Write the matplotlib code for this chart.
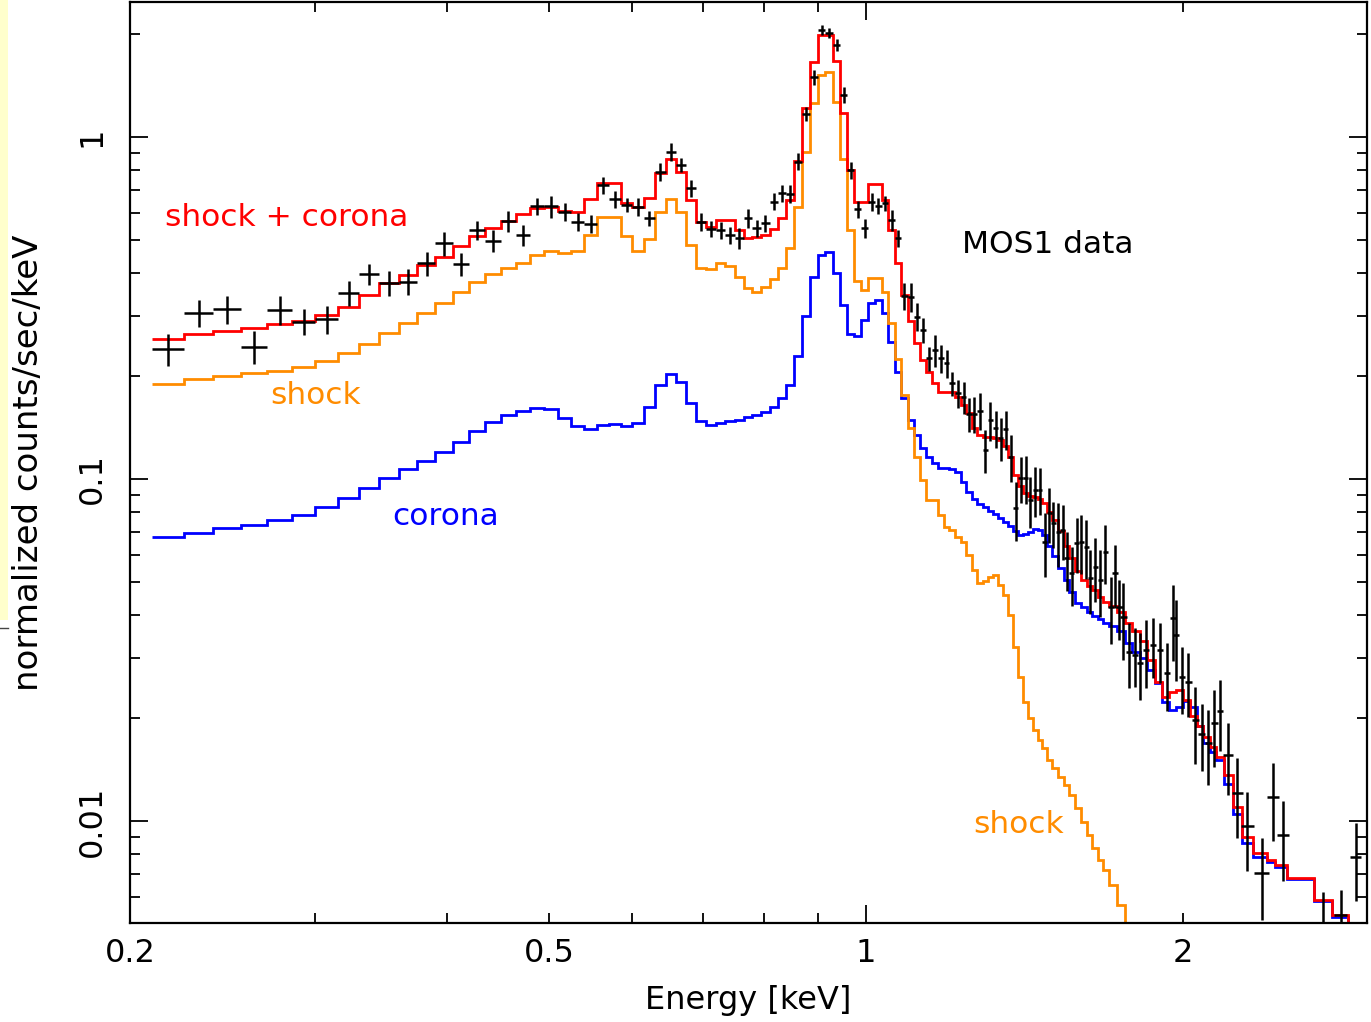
import matplotlib
matplotlib.use("Agg")
import matplotlib.pyplot as plt
from matplotlib.ticker import FixedLocator, FixedFormatter, LogLocator, NullFormatter
from matplotlib.patches import Rectangle
from matplotlib.lines import Line2D

# ---------------- data ----------------
# model bin edges [keV]
bin_edges = [
    0.210, 0.225, 0.240, 0.255, 0.270, 0.285, 0.300, 0.315, 0.330, 0.345,
    0.360, 0.375, 0.390, 0.405, 0.420, 0.435, 0.450, 0.465, 0.480, 0.495,
    0.510, 0.525, 0.540, 0.555, 0.570, 0.585, 0.600, 0.615, 0.630, 0.645,
    0.660, 0.675, 0.690, 0.705, 0.720, 0.735, 0.750, 0.765, 0.780, 0.795,
    0.810, 0.825, 0.840, 0.855, 0.870, 0.885, 0.900, 0.915, 0.930, 0.945,
    0.960, 0.975, 0.990, 1.005, 1.020, 1.035, 1.050, 1.065, 1.080, 1.095,
    1.110, 1.125, 1.140, 1.155, 1.170, 1.185, 1.200, 1.215, 1.230, 1.245,
    1.260, 1.275, 1.290, 1.305, 1.320, 1.335, 1.350, 1.365, 1.380, 1.395,
    1.410, 1.425, 1.440, 1.455, 1.470, 1.485, 1.500,
    1.52, 1.54, 1.56, 1.58, 1.60, 1.62, 1.64, 1.66, 1.68, 1.70,
    1.73, 1.76, 1.79, 1.82, 1.85, 1.88, 1.91, 1.94, 1.97, 2.00,
    2.03, 2.06, 2.09, 2.12, 2.15, 2.185, 2.232,
    2.274, 2.331, 2.402, 2.446, 2.509, 2.66, 2.769, 2.871, 2.98,
]

# model: shock + corona (red)
model_total = [
    0.257, 0.266, 0.271, 0.276, 0.284, 0.290, 0.302, 0.319, 0.344, 0.374,
    0.395, 0.422, 0.447, 0.481, 0.513, 0.542, 0.569, 0.596, 0.620, 0.622,
    0.608, 0.604, 0.657, 0.732, 0.732, 0.641, 0.625, 0.664, 0.782, 0.861,
    0.790, 0.652, 0.565, 0.547, 0.572, 0.572, 0.535, 0.506, 0.510, 0.517,
    0.537, 0.579, 0.654, 0.851, 1.213, 1.653, 1.987, 1.987, 1.668, 1.178,
    0.800, 0.647, 0.647, 0.727, 0.727, 0.654, 0.535, 0.429, 0.345, 0.290,
    0.249, 0.223, 0.205, 0.1905, 0.180, 0.180, 0.180, 0.174, 0.165, 0.156,
    0.141, 0.1345, 0.1327, 0.1327, 0.1318, 0.130, 0.1249, 0.116, 0.1027, 0.0954,
    0.0910, 0.0892, 0.0886, 0.0874, 0.0851, 0.0801, 0.0759, 0.0705, 0.0637, 0.0587,
    0.0538, 0.0507, 0.0487, 0.0474, 0.0452, 0.0438, 0.0425, 0.0408, 0.0379, 0.0358,
    0.0336, 0.0296, 0.0255, 0.0231, 0.0239, 0.0242, 0.0226, 0.0202, 0.0189, 0.0176,
    0.0165, 0.0154, 0.0136, 0.0110, 0.00900, 0.00805, 0.00769, 0.00743, 0.00680, 0.00587,
    0.00531, 0.0040,
]

# model: shock component (orange)
model_shock = [
    0.189, 0.196, 0.2001, 0.2038, 0.2074, 0.2131, 0.2210, 0.2331, 0.2481, 0.2678,
    0.2864, 0.3052, 0.3265, 0.3529, 0.3775, 0.3977, 0.4131, 0.4290, 0.4519, 0.4653,
    0.4571, 0.4653, 0.5152, 0.5828, 0.5848, 0.5135, 0.4641, 0.5022, 0.6036, 0.6588,
    0.6048, 0.4842, 0.4131, 0.4111, 0.4272, 0.4204, 0.3897, 0.3611, 0.3529, 0.3643,
    0.3837, 0.4131, 0.4726, 0.6254, 0.9058, 1.260, 1.518, 1.552, 1.268, 0.864,
    0.5348, 0.3793, 0.3570, 0.3871, 0.3871, 0.3510, 0.2853, 0.2239, 0.1760, 0.1407,
    0.1162, 0.0993, 0.0868, 0.0868, 0.0785, 0.0725, 0.0709, 0.0678, 0.0656, 0.0599,
    0.0542, 0.0497, 0.0503, 0.0517, 0.0524, 0.0490, 0.0458, 0.0400, 0.0323, 0.0264,
    0.0223, 0.0200, 0.0185, 0.0173, 0.0163, 0.0151, 0.01429, 0.01345, 0.01274, 0.01191,
    0.01091, 0.00993, 0.00910, 0.00834, 0.00769, 0.00719, 0.00650, 0.00568, 0.00496, 0.0042,
]

# model: corona component (blue)
model_corona = [
    0.0678, 0.0697, 0.0718, 0.0734, 0.0759, 0.0785, 0.0827, 0.0882, 0.0943, 0.1009,
    0.1070, 0.1131, 0.1202, 0.1285, 0.1384, 0.1471, 0.1536, 0.1581, 0.1610, 0.1597,
    0.1511, 0.1429, 0.1403, 0.1436, 0.1448, 0.1429, 0.1455, 0.1627, 0.1883, 0.2024,
    0.1917, 0.1665, 0.1481, 0.1436, 0.1458, 0.1478, 0.1488, 0.1522, 0.1539, 0.1573,
    0.1627, 0.1722, 0.1883, 0.2289, 0.2996, 0.3883, 0.4519, 0.4610, 0.3995, 0.3227,
    0.2646, 0.2619, 0.2917, 0.3278, 0.3338, 0.3052, 0.2521, 0.2060, 0.1722, 0.1488,
    0.1345, 0.1230, 0.1162, 0.1111, 0.1075, 0.1075, 0.1070, 0.1051, 0.0982, 0.0918,
    0.0874, 0.0845, 0.0826, 0.0806, 0.0790, 0.0767, 0.0748, 0.0729, 0.0705, 0.0686,
    0.0689, 0.0701, 0.0713, 0.0709, 0.0686, 0.0637, 0.0595, 0.0549, 0.0507, 0.0467,
    0.0435, 0.0423, 0.0409, 0.0398, 0.0389, 0.0380, 0.0372, 0.0359, 0.0332, 0.0312,
    0.0300, 0.0276, 0.0253, 0.0223, 0.0211, 0.0216, 0.0224, 0.0215, 0.0189, 0.0169,
    0.0159, 0.0151, 0.0128, 0.0105, 0.00861, 0.00787, 0.00760, 0.00732, 0.00675, 0.00585,
    0.00523, 0.0040,
]

# MOS1 data points
data_energy = [
    0.2175, 0.2325, 0.2475, 0.2625, 0.2775, 0.2925, 0.3075, 0.3225, 0.3375, 0.3525,
    0.3675, 0.3825, 0.3975, 0.4125, 0.4275, 0.4425, 0.4575, 0.4725, 0.4875, 0.5025,
    0.5175, 0.5325, 0.5475, 0.5625, 0.5775, 0.5925, 0.6075, 0.6225, 0.6375, 0.6525,
    0.6675, 0.6825, 0.6975, 0.7125, 0.7275, 0.7425, 0.7575, 0.7725, 0.7875, 0.8025,
    0.8175, 0.8325, 0.8475, 0.8625, 0.8775, 0.8925, 0.9075, 0.9225, 0.9375, 0.9525,
    0.9675, 0.9825, 0.9975, 1.0125, 1.0275, 1.0425, 1.0575, 1.0725, 1.0875, 1.1025,
    1.1175, 1.1325, 1.1475, 1.1625, 1.1775, 1.1925, 1.2075, 1.2225, 1.2375, 1.2525,
    1.2675, 1.2825, 1.2975, 1.3125, 1.3275, 1.3425, 1.3575, 1.3725, 1.3875, 1.4025,
    1.4175, 1.4325, 1.4475, 1.4625, 1.4775, 1.4925,
    1.5063, 1.5228, 1.5375, 1.5510, 1.5681, 1.5852, 1.6003, 1.6179, 1.6321, 1.6500,
    1.6681, 1.6865, 1.7076, 1.7238, 1.7400, 1.7553, 1.7773, 1.8008, 1.8206, 1.8446,
    1.8730, 1.9019, 1.9301, 1.9556, 1.9698, 1.9945, 2.0235, 2.0534, 2.0837, 2.1140,
    2.1419, 2.1687, 2.2084, 2.2522, 2.3020, 2.3760, 2.4339, 2.4874, 2.7186, 2.8238,
    2.9168,
]
data_energy_halfwidth = [0.0075] * 86 + [
    0.009, 0.009, 0.009, 0.009, 0.009, 0.009, 0.009, 0.009, 0.009, 0.009,
    0.009, 0.009, 0.012, 0.012, 0.012, 0.012, 0.012, 0.012, 0.012, 0.012,
    0.012, 0.012, 0.012, 0.012, 0.012, 0.012, 0.016, 0.016, 0.016, 0.016,
    0.016, 0.016, 0.024, 0.026, 0.031, 0.039, 0.031, 0.034, 0.040, 0.040,
    0.037,
]
data_counts = [
    0.2394, 0.3064, 0.3135, 0.2436, 0.3120, 0.2884, 0.2931, 0.3505, 0.3977, 0.3749,
    0.3775, 0.4272, 0.4887, 0.4253, 0.5348, 0.4973, 0.5680, 0.5170, 0.6284, 0.6263,
    0.6048, 0.5654, 0.5567, 0.7238, 0.6574, 0.6327, 0.6254, 0.5785, 0.7916, 0.9040,
    0.8283, 0.7079, 0.5643, 0.5383, 0.5348, 0.5170, 0.5056, 0.5785, 0.5408, 0.5594,
    0.6470, 0.6845, 0.6813, 0.8470, 1.1675, 1.4948, 2.0552, 2.0098, 1.8578, 1.3271,
    0.8009, 0.6145, 0.5408, 0.6470, 0.6284, 0.6391, 0.5719, 0.5049, 0.3428, 0.3412,
    0.2982, 0.2727, 0.2254, 0.2383, 0.2254, 0.2179, 0.1905, 0.1781, 0.1737, 0.1549,
    0.1549, 0.1584, 0.1216, 0.1488, 0.1407, 0.1315, 0.1398, 0.1162, 0.0821, 0.1005,
    0.1005, 0.0868, 0.0929, 0.0929, 0.0656, 0.0794,
    0.0742, 0.0701, 0.0709, 0.0586, 0.0530, 0.0649, 0.0656, 0.0634, 0.0512, 0.0554,
    0.0507, 0.0613, 0.0423, 0.0530, 0.0423, 0.0396, 0.0312, 0.0306, 0.0290, 0.0316,
    0.0327, 0.0316, 0.0270, 0.0392, 0.0350, 0.0264, 0.0255, 0.0197, 0.0180, 0.0169,
    0.0193, 0.0209, 0.0156, 0.0121, 0.00964, 0.00702, 0.01175, 0.00907, 0.0049, 0.0053,
    0.00785,
]
data_error = [
    0.0261, 0.0274, 0.0301, 0.0272, 0.0308, 0.0251, 0.0280, 0.0296, 0.0276, 0.0316,
    0.0336, 0.0348, 0.0398, 0.0336, 0.0345, 0.0375, 0.0396, 0.0359, 0.0357, 0.0458,
    0.0352, 0.0329, 0.0348, 0.0417, 0.0378, 0.0314, 0.0365, 0.0304, 0.0464, 0.0545,
    0.0399, 0.0405, 0.0340, 0.0297, 0.0306, 0.0297, 0.0352, 0.0360, 0.0311, 0.0321,
    0.0375, 0.0393, 0.0425, 0.0490, 0.0538, 0.0752, 0.0705, 0.0687, 0.0727, 0.0705,
    0.0461, 0.0368, 0.0336, 0.0403, 0.0349, 0.0330, 0.0397, 0.0299, 0.0307, 0.0329,
    0.0283, 0.0223, 0.0182, 0.0254, 0.0211, 0.0204, 0.0155, 0.0167, 0.0184, 0.0176,
    0.0188, 0.0197, 0.0175, 0.0195, 0.0177, 0.0190, 0.0186, 0.0183, 0.0161, 0.0157,
    0.0163, 0.0148, 0.0157, 0.0146, 0.0138, 0.0145,
    0.0116, 0.0148, 0.0130, 0.0115, 0.0104, 0.0118, 0.0129, 0.0125, 0.0108, 0.0117,
    0.0113, 0.0121, 0.0095, 0.0111, 0.0084, 0.0100, 0.0067, 0.0060, 0.0065, 0.0071,
    0.0065, 0.0063, 0.0061, 0.0098, 0.0093, 0.0059, 0.0054, 0.0050, 0.0040, 0.0042,
    0.0049, 0.0049, 0.0037, 0.0032, 0.0025, 0.0019, 0.0030, 0.0024, 0.0013, 0.0010,
    0.0020,
]

x_tick_values = [0.2, 0.5, 1, 2]
x_tick_labels = ["0.2", "0.5", "1", "2"]
x_minor_positions = [0.2, 0.3, 0.4, 0.5, 0.6, 0.7, 0.8, 0.9, 2, 3]
y_tick_values = [0.01, 0.1, 1]
y_tick_labels = ["0.01", "0.1", "1"]

# ---------------- figure ----------------
W, H = 1371, 1022
fig = plt.figure(figsize=(W / 100, H / 100), dpi=100)
fig.patch.set_facecolor("white")
ax = fig.add_axes([130 / W, 1 - 923 / H, 1237 / W, 921 / H])
ax.set_xscale("log")
ax.set_yscale("log")
ax.set_xlim(0.2, 2.99)
ax.set_ylim(0.00503, 2.48)

lw_model = 2.0
ax.stairs(model_corona, bin_edges, baseline=None, color="#0000ff", lw=lw_model)
ax.stairs(model_shock, bin_edges[:len(model_shock) + 1], baseline=None,
          color="#ff8c00", lw=lw_model)
ax.stairs(model_total, bin_edges, baseline=None, color="#ff0000", lw=lw_model)
ax.errorbar(data_energy, data_counts, xerr=data_energy_halfwidth, yerr=data_error,
            fmt="none", ecolor="black", elinewidth=1.8, capsize=0)

# ticks
major_x = [v for v in x_tick_values if v == 1]
ax.xaxis.set_major_locator(FixedLocator(major_x))
ax.xaxis.set_major_formatter(FixedFormatter([x_tick_labels[x_tick_values.index(v)] for v in major_x]))
ax.xaxis.set_minor_locator(FixedLocator(x_minor_positions))
ax.xaxis.set_minor_formatter(FixedFormatter(
    [x_tick_labels[x_tick_values.index(v)] if v in x_tick_values else "" for v in x_minor_positions]))
ax.yaxis.set_major_locator(FixedLocator(y_tick_values))
ax.yaxis.set_major_formatter(FixedFormatter(y_tick_labels))
ax.yaxis.set_minor_locator(LogLocator(base=10, subs=[2, 3, 4, 5, 6, 7, 8, 9]))
ax.yaxis.set_minor_formatter(NullFormatter())

ax.tick_params(which="both", direction="in", top=True, right=True, width=1.3,
               labelsize=23, colors="black")
ax.tick_params(which="major", length=13)
ax.tick_params(which="minor", length=7)
ax.tick_params(axis="x", which="both", pad=11)
ax.tick_params(axis="y", which="both", pad=16, labelrotation=90)
for lab in ax.get_yticklabels():
    lab.set_verticalalignment("center")
for sp in ax.spines.values():
    sp.set_linewidth(1.6)

ax.set_xlabel("Energy [keV]", fontsize=23)
ax.xaxis.set_label_coords(0.5, -0.067)
ax.set_ylabel("normalized counts/sec/keV", fontsize=24.5)
ax.yaxis.set_label_coords(-0.069, 0.5)

# annotations
fs = 22.5
ax.text(0.0283, 0.7568, "shock + corona", color="#ff0000", fontsize=fs,
        transform=ax.transAxes, ha="left", va="baseline")
ax.text(0.1132, 0.5635, "shock", color="#ff8c00", fontsize=fs,
        transform=ax.transAxes, ha="left", va="baseline")
ax.text(0.2118, 0.4325, "corona", color="#0000ff", fontsize=fs,
        transform=ax.transAxes, ha="left", va="baseline")
ax.text(0.6726, 0.7275, "MOS1 data", color="black", fontsize=fs,
        transform=ax.transAxes, ha="left", va="baseline")
ax.text(0.6815, 0.0977, "shock", color="#ff8c00", fontsize=fs,
        transform=ax.transAxes, ha="left", va="baseline")

# slide artefacts at the left / bottom edge
fig.add_artist(Rectangle((0, 1 - 620 / H), 8 / W, 620 / H, transform=fig.transFigure,
                         facecolor="#ffffcc", edgecolor="none"))
fig.add_artist(Line2D([0, 8 / W], [1 - 628 / H] * 2, transform=fig.transFigure,
                      color="#444444", lw=1))

fig.savefig("out.png", dpi=100, facecolor="white")
